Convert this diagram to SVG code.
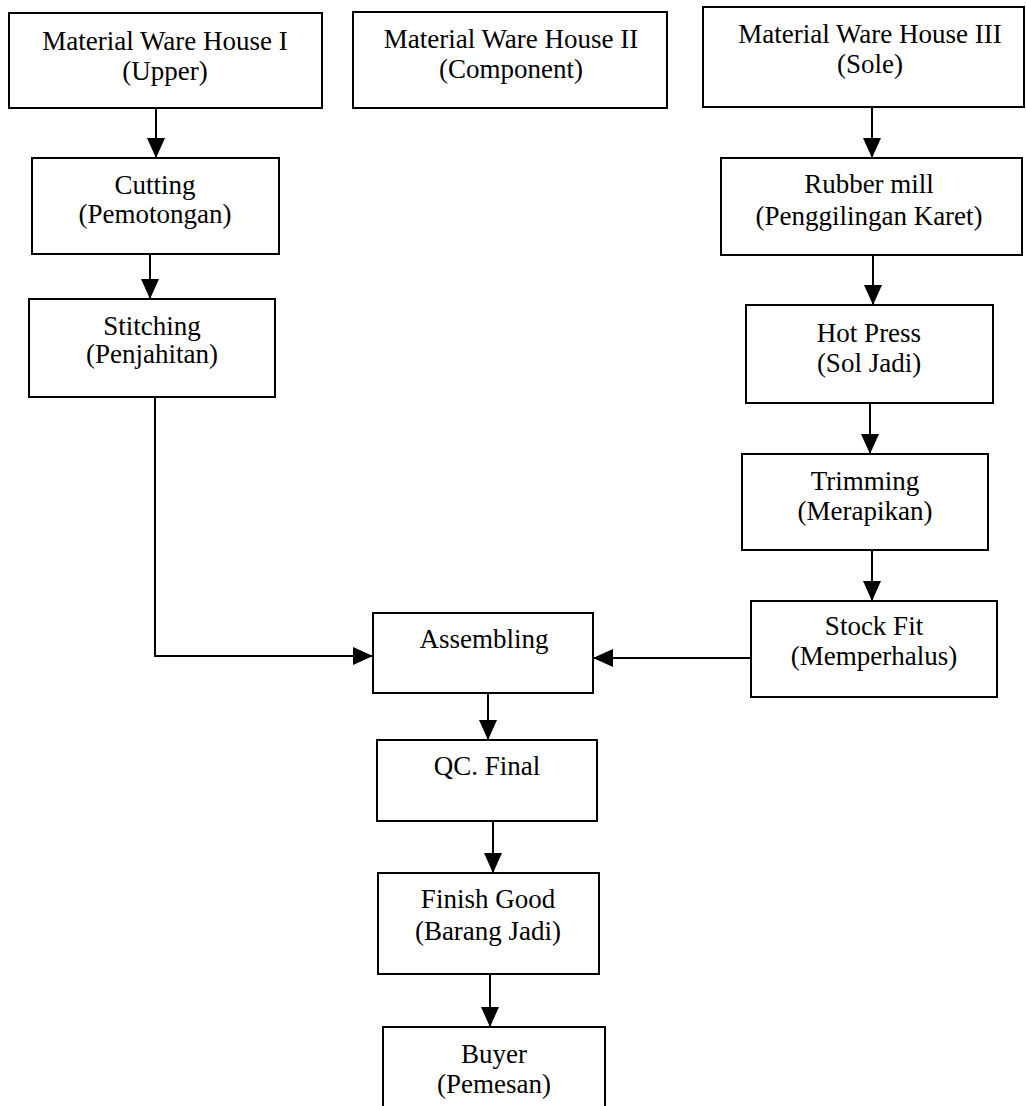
<svg xmlns="http://www.w3.org/2000/svg" width="1026" height="1106" viewBox="0 0 1026 1106">
<style>
.box{fill:#fff;stroke:#000;stroke-width:2}
.t{font-family:"Liberation Serif","Times New Roman",serif;font-size:27px;fill:#000;text-anchor:middle}
.c{fill:none;stroke:#000;stroke-width:2}
</style>
<defs>
<marker id="ah" markerUnits="userSpaceOnUse" markerWidth="20" markerHeight="18" refX="20" refY="9" orient="auto">
<path d="M0,0 L20,9 L0,18 z" fill="#000"/>
</marker>
</defs>
<rect width="1026" height="1106" fill="#fff"/>
<g id="mwh1"><rect class="box" x="9" y="13" width="313" height="95"/><text class="t" x="165" y="50">Material Ware House I</text><text class="t" x="165" y="80">(Upper)</text></g>
<g id="mwh2"><rect class="box" x="353" y="12" width="314" height="96"/><text class="t" x="511" y="48">Material Ware House II</text><text class="t" x="511" y="78">(Component)</text></g>
<g id="mwh3"><rect class="box" x="703" y="7" width="321" height="100"/><text class="t" x="870" y="43">Material Ware House III</text><text class="t" x="870" y="73">(Sole)</text></g>
<g id="cutting"><rect class="box" x="32" y="158" width="247" height="96"/><text class="t" x="155" y="194">Cutting</text><text class="t" x="155" y="223">(Pemotongan)</text></g>
<g id="stitching"><rect class="box" x="29" y="299" width="246" height="98"/><text class="t" x="152" y="335">Stitching</text><text class="t" x="152" y="363">(Penjahitan)</text></g>
<g id="rubber"><rect class="box" x="721" y="158" width="301" height="97"/><text class="t" x="869" y="193">Rubber mill</text><text class="t" x="869" y="225">(Penggilingan Karet)</text></g>
<g id="hotpress"><rect class="box" x="746" y="305" width="247" height="98"/><text class="t" x="869" y="342">Hot Press</text><text class="t" x="869" y="372">(Sol Jadi)</text></g>
<g id="trimming"><rect class="box" x="742" y="454" width="246" height="96"/><text class="t" x="865" y="490">Trimming</text><text class="t" x="865" y="520">(Merapikan)</text></g>
<g id="stockfit"><rect class="box" x="751" y="601" width="246" height="96"/><text class="t" x="874" y="635">Stock Fit</text><text class="t" x="874" y="665">(Memperhalus)</text></g>
<g id="assembling"><rect class="box" x="373" y="613" width="220" height="80"/><text class="t" x="484" y="648">Assembling</text></g>
<g id="qc"><rect class="box" x="377" y="740" width="220" height="81"/><text class="t" x="487" y="775">QC. Final</text></g>
<g id="finish"><rect class="box" x="378" y="873" width="221" height="101"/><text class="t" x="488" y="908">Finish Good</text><text class="t" x="488" y="940">(Barang Jadi)</text></g>
<g id="buyer"><rect class="box" x="383" y="1027" width="222" height="90"/><text class="t" x="494" y="1063">Buyer</text><text class="t" x="494" y="1093">(Pemesan)</text></g>
<g id="connectors">
<path class="c" d="M156,108 V158" marker-end="url(#ah)"/>
<path class="c" d="M150,254 V299" marker-end="url(#ah)"/>
<path class="c" d="M155,397 V656 H373" marker-end="url(#ah)"/>
<path class="c" d="M872,107 V158" marker-end="url(#ah)"/>
<path class="c" d="M873,255 V305" marker-end="url(#ah)"/>
<path class="c" d="M870,403 V454" marker-end="url(#ah)"/>
<path class="c" d="M872,550 V601" marker-end="url(#ah)"/>
<path class="c" d="M751,658 H593" marker-end="url(#ah)"/>
<path class="c" d="M488,693 V740" marker-end="url(#ah)"/>
<path class="c" d="M493,821 V873" marker-end="url(#ah)"/>
<path class="c" d="M490,974 V1027" marker-end="url(#ah)"/>
</g>
</svg>
